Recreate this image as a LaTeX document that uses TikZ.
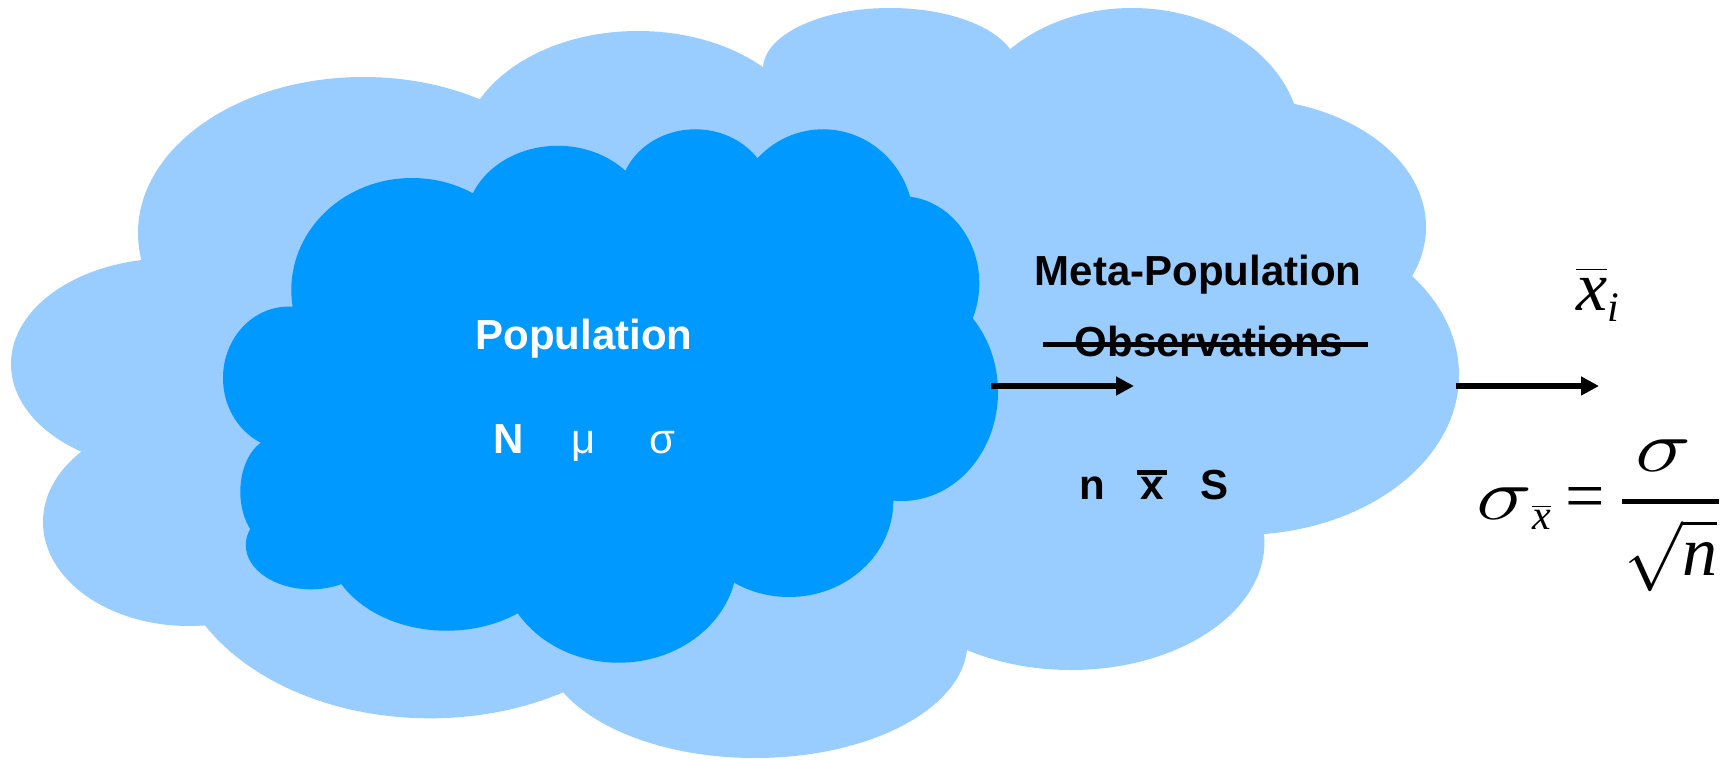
\RequirePackage{fix-cm}
\documentclass[tikz,border=0pt]{standalone}
\usepackage{amsmath}
\usepackage{fontspec}
\setmainfont{Liberation Sans}
\newfontfamily\tms{Liberation Serif}
\usetikzlibrary{arrows.meta}
\DeclareMathSizes{70}{70}{42}{32}
\definecolor{outerblue}{HTML}{99CCFF}
\definecolor{innerblue}{HTML}{0099FF}
\newcommand\barredx{\vbox{\hrule height 5pt width 30pt\kern 2pt\hbox to 30pt{\hss x\hss}}}
\newcommand\tx{\text{\tms\itshape x}}
\newcommand\tn{\text{\tms\itshape n}}
\newcommand\ti{\text{\tms\itshape i}}
\newcommand\wsig{\scalebox{1.35}[1.05]{$\sigma$}}
\tikzset{
  bigbold/.style={font=\fontsize{42}{50}\selectfont\bfseries, inner sep=0pt},
  mathbig/.style={font=\fontsize{70}{80}\selectfont, inner sep=0pt},
  conn/.style={line width=5.5pt, -{Triangle[length=18pt,width=18pt]}},
  strike/.style={line width=5pt},
}
\begin{document}
\begin{tikzpicture}[x=1pt,y=-1pt]
\useasboundingbox (0,0) rectangle (1730,760);
\fill[white] (0,0) rectangle (1730,760);

% outer cloud (meta-population)
\begin{scope}[fill=outerblue]
\fill (141.5,260) -- (480,99) -- (763,67) -- (1010,49) -- (1294,104) -- (1412,276) -- (1264,534) -- (967,650) -- (563,692) -- (205,625) -- (82,452) -- cycle;
\fill (363.5,233) ellipse [x radius=225.5pt, y radius=156pt];
\fill (638,153) ellipse [x radius=176pt, y radius=122pt];
\fill (890,69) ellipse [x radius=127pt, y radius=61pt];
\fill (1132,142) ellipse [x radius=169pt, y radius=134pt];
\fill (1240.5,227) ellipse [x radius=185.5pt, y radius=128.6pt];
\fill (1240,375) ellipse [x radius=219pt, y radius=160pt];
\fill (1071,542.5) ellipse [x radius=193.4pt, y radius=127.5pt];
\fill (755,642.6) ellipse [x radius=212.4pt, y radius=115.4pt];
\fill (430,537.8) ellipse [x radius=257.2pt, y radius=180.5pt];
\fill (189,522) ellipse [x radius=146pt, y radius=104pt];
\fill (170.4,364) ellipse [x radius=159.4pt, y radius=105.7pt];
\end{scope}

% inner cloud (population)
\begin{scope}[fill=innerblue]
\fill (292.5,306.7) -- (473,193) -- (625.4,170.7) -- (757.5,158.3) -- (910,196.7) -- (972.7,318.3) -- (893.3,500.7) -- (734.2,582.7) -- (517.8,613.3) -- (341.3,584) -- (249.7,528.3) -- (260.8,442.7) -- cycle;
\fill (412,290) ellipse [x radius=120.7pt, y radius=112pt];
\fill (557.7,222.8) ellipse [x radius=91.8pt, y radius=77pt];
\fill (695.3,197.5) ellipse [x radius=76pt, y radius=68.2pt];
\fill (823,223.5) ellipse [x radius=90.8pt, y radius=94.2pt];
\fill (900.8,283.3) ellipse [x radius=78.5pt, y radius=87.2pt];
\fill (901.7,392) ellipse [x radius=96.3pt, y radius=109pt];
\fill (789,501.1) ellipse [x radius=104.3pt, y radius=95.9pt];
\fill (618.8,559.1) ellipse [x radius=118.5pt, y radius=103.6pt];
\fill (446.7,541.1) ellipse [x radius=120pt, y radius=89.6pt];
\fill (310.8,545) ellipse [x radius=65pt, y radius=44.3pt];
\fill (276.2,491.7) ellipse [x radius=35.9pt, y radius=54.2pt];
\fill (288.6,378) ellipse [x radius=65.6pt, y radius=71.4pt];
\end{scope}

% texts
\node[bigbold, text=white, anchor=base] (pop) at (584,349.3) {Population};
\node[bigbold, text=white, anchor=base west] (params) at (493,453.3) {N\hspace{48pt}{\mdseries μ}\hspace{54pt}{\mdseries σ}};
\node[bigbold, anchor=base] (meta) at (1198,285) {Meta-Population};
\node[bigbold, anchor=base] (obs) at (1209,356.7) {Observations};
\node[bigbold, anchor=base west] (stats) at (1079,499) {n\hspace{32pt}\barredx\hspace{34pt}S};
\node[mathbig, anchor=base] (xbari) at (1598,310.7) {$\overline{\raisebox{0pt}[38pt]{\tx}}_{\ti}$};
\node[mathbig, anchor=base west] (sem) at (1476,519) {$\wsig_{\overline{\tx}}\hspace{14pt}\text{\tms =}\hspace{16pt}\genfrac{}{}{5pt}{0}{\wsig}{\hspace{2pt}\sqrt{\tn}\hspace{2pt}}$};

% strike-through
\coordinate (strikeL) at (1043,344);
\coordinate (strikeR) at (1368,344);
\draw[strike] (strikeL) -- (strikeR);

% arrows
\coordinate (arrAstart) at (991,386);
\coordinate (arrAend) at (1134,386);
\coordinate (arrBstart) at (1456,386);
\coordinate (arrBend) at (1599,386);
\draw[conn] (arrAstart) -- (arrAend);
\draw[conn] (arrBstart) -- (arrBend);
\end{tikzpicture}
\end{document}
